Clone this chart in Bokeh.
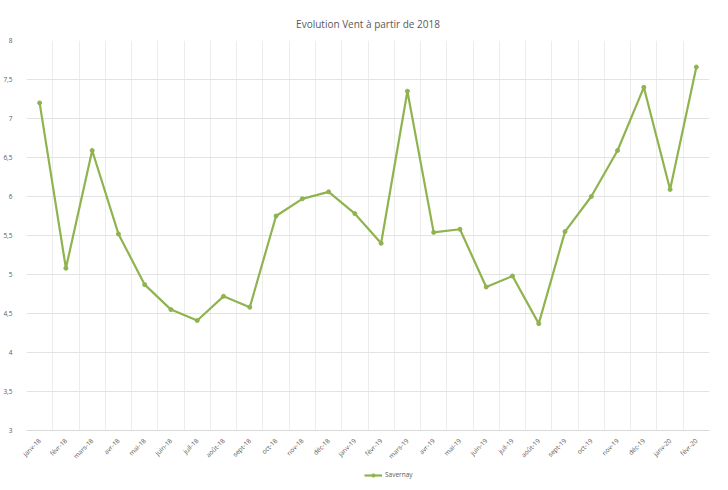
from bokeh.plotting import figure
from bokeh.layouts import column
from bokeh.models import FixedTicker, Legend, LegendItem, ColumnDataSource
from bokeh.embed import file_html
from bokeh.resources import INLINE
import math

months = ["janv-18", "févr-18", "mars-18", "avr-18", "mai-18", "juin-18", "juil-18",
          "août-18", "sept-18", "oct-18", "nov-18", "déc-18", "janv-19", "févr-19",
          "mars-19", "avr-19", "mai-19", "juin-19", "juil-19", "août-19", "sept-19",
          "oct-19", "nov-19", "déc-19", "janv-20", "févr-20"]
vent = [7.2, 5.08, 6.59, 5.52, 4.87, 4.55, 4.41, 4.72, 4.58, 5.75, 5.97, 6.06, 5.78, 5.4,
        7.35, 5.54, 5.58, 4.84, 4.98, 4.37, 5.55, 6.0, 6.59, 7.4, 6.09, 7.66]
y_ticks = [3, 3.5, 4, 4.5, 5, 5.5, 6, 6.5, 7, 7.5, 8]
y_labels = ["3", "3,5", "4", "4,5", "5", "5,5", "6", "6,5", "7", "7,5", "8"]
title = "Evolution Vent à partir de 2018"
series_name = "Savernay"

idx = list(range(len(months)))
src = ColumnDataSource(dict(x=idx, y=vent))
color = "#8fb34f"

p = figure(width=712, height=466, output_backend="svg", toolbar_location=None,
           x_range=(-0.5, len(months) - 0.5), y_range=(3, 8),
           min_border_left=19, min_border_right=3, min_border_top=40, min_border_bottom=27)
p.title.text = title
p.title.align = "center"
p.title.text_font = "Open Sans"
p.title.text_font_size = "10px"
p.title.text_font_style = "normal"
p.title.text_color = "#595959"
p.title.standoff = 20
p.outline_line_color = None
p.background_fill_color = "white"
p.border_fill_color = "white"

p.line("x", "y", source=src, line_color=color, line_width=2.2)
p.scatter("x", "y", source=src, size=4, fill_color=color, line_color=color)

# x axis
p.xaxis.ticker = FixedTicker(ticks=idx)
p.xaxis.major_label_overrides = {i: m for i, m in enumerate(months)}
p.xaxis.major_label_orientation = math.pi / 4
p.xaxis.axis_line_color = "#d9d9d9"
p.xaxis.major_tick_line_color = None
p.xaxis.minor_tick_line_color = None
p.xaxis.major_label_text_font_size = "6.5px"
p.xaxis.major_label_text_color = "#595959"
p.xaxis.major_label_text_font = "Open Sans"
p.xaxis.major_label_standoff = 3

# y axis
p.yaxis.ticker = FixedTicker(ticks=y_ticks)
p.yaxis.major_label_overrides = {t: l for t, l in zip(y_ticks, y_labels)}
p.yaxis.axis_line_color = None
p.yaxis.major_tick_line_color = None
p.yaxis.minor_tick_line_color = None
p.yaxis.major_label_text_font_size = "6.5px"
p.yaxis.major_label_text_color = "#595959"
p.yaxis.major_label_text_font = "Open Sans"
p.yaxis.major_label_standoff = 8

p.xgrid.ticker = FixedTicker(ticks=[i - 0.5 for i in range(len(months) + 1)])
p.xgrid.grid_line_color = "#ececec"
p.ygrid.grid_line_color = "#e3e3e3"

# legend strip below the chart (same series, its data lies outside this strip's view)
lf = figure(width=712, height=14, output_backend="svg", toolbar_location=None,
            x_range=(0, 1), y_range=(0, 1), x_axis_type=None, y_axis_type=None,
            min_border=0)
lf.outline_line_color = None
lf.background_fill_color = "white"
lf.border_fill_color = "white"
l_line = lf.line("x", "y", source=src, line_color=color, line_width=2.2)
l_pts = lf.scatter("x", "y", source=src, size=4, fill_color=color, line_color=color)
legend = Legend(items=[LegendItem(label=series_name, renderers=[l_line, l_pts])],
                orientation="horizontal", location=(338, 1),
                label_text_font_size="6.5px", label_text_color="#595959",
                label_text_font="Open Sans", glyph_width=18, glyph_height=8,
                border_line_color=None, background_fill_alpha=0, padding=0, margin=0,
                label_standoff=3, label_height=8)
lf.add_layout(legend)

layout = column(p, lf, spacing=0)
open("out.html", "w").write(file_html(layout, INLINE))
